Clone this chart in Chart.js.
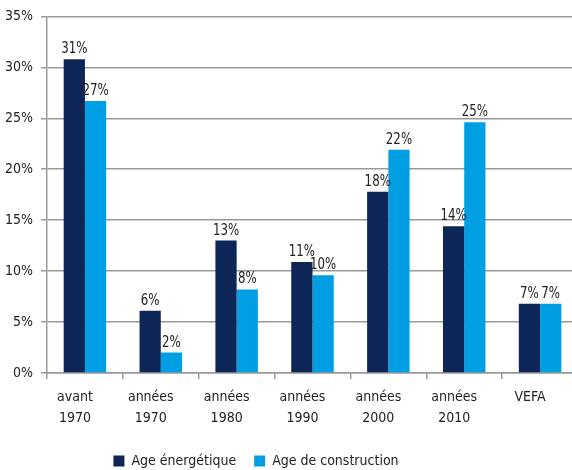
<!DOCTYPE html>
<html>
<head>
<meta charset="utf-8">
<script src="https://cdn.jsdelivr.net/npm/chart.js@4/dist/chart.umd.min.js"></script>
<style>
  html, body { margin: 0; padding: 0; background: #fff; overflow: hidden; }
  #wrap { width: 578px; height: 470px; }
</style>
</head>
<body>
<div id="wrap"><canvas id="chart"></canvas></div>
<script>
const categories = [['avant', '1970'], ['années', '1970'], ['années', '1980'], ['années', '1990'], ['années', '2000'], ['années', '2010'], ['VEFA']];
const ageEnergetique = [30.8, 6.1, 13.0, 10.9, 17.8, 14.4, 6.8];
const ageConstruction = [26.7, 2.0, 8.2, 9.6, 21.9, 24.6, 6.8];
const seriesNames = ['Age énergétique', 'Age de construction'];

const FONT = '"Liberation Sans Narrow", "DejaVu Sans Condensed", sans-serif';

// draw the % label above each bar (squeezed a bit, the original font is condensed)
const barLabels = {
  id: 'barLabels',
  afterDatasetsDraw(chart) {
    const ctx = chart.ctx;
    chart.data.datasets.forEach((ds, i) => {
      chart.getDatasetMeta(i).data.forEach((bar, j) => {
        ctx.save();
        ctx.translate(bar.x, bar.y - 6);
        ctx.scale(0.82, 1);
        ctx.font = '16px ' + FONT;
        ctx.fillStyle = '#222';
        ctx.textAlign = 'center';
        ctx.textBaseline = 'alphabetic';
        ctx.fillText(Math.round(ds.data[j]) + '%', 0, 0);
        ctx.restore();
      });
    });
  }
};

// legend sits a bit left of centre in the original
const legendShift = {
  id: 'legendShift',
  afterLayout(chart) {
    chart.legend.left -= 33;
    chart.legend.right -= 33;
  }
};

new Chart(document.getElementById('chart'), {
  type: 'bar',
  data: {
    labels: categories,
    datasets: [
      { label: seriesNames[0], data: ageEnergetique, backgroundColor: '#0e2657' },
      { label: seriesNames[1], data: ageConstruction, backgroundColor: '#009fe3' }
    ]
  },
  options: {
    responsive: true,
    maintainAspectRatio: false,
    animation: false,
    layout: { padding: { top: 12, right: 0, left: 0, bottom: -8 } },
    datasets: { bar: { categoryPercentage: 0.56, barPercentage: 1.0 } },
    plugins: {
      legend: {
        position: 'bottom',
        labels: {
          font: { family: FONT, size: 14 },
          color: '#222',
          boxWidth: 11,
          boxHeight: 11,
          padding: 18
        }
      },
      tooltip: { enabled: false }
    },
    scales: {
      x: {
        grid: { display: true, drawOnChartArea: false, offset: true, color: '#999', lineWidth: 1.5, tickLength: 6 },
        border: { color: '#999', width: 1.5 },
        ticks: { font: { family: FONT, size: 14, lineHeight: 1.5 }, color: '#222', maxRotation: 0, padding: 8, labelOffset: -10 },
        afterFit(scale) { scale.height = 63; }
      },
      y: {
        min: 0,
        max: 35,
        ticks: { stepSize: 5, callback: v => v + '%', font: { family: FONT, size: 14 }, color: '#222', padding: 8 },
        grid: { color: '#999', lineWidth: 1.5, tickLength: 6 },
        border: { color: '#999', width: 1.5 },
        afterFit(scale) { scale.width = 47; }
      }
    }
  },
  plugins: [barLabels, legendShift]
});
</script>
</body>
</html>
